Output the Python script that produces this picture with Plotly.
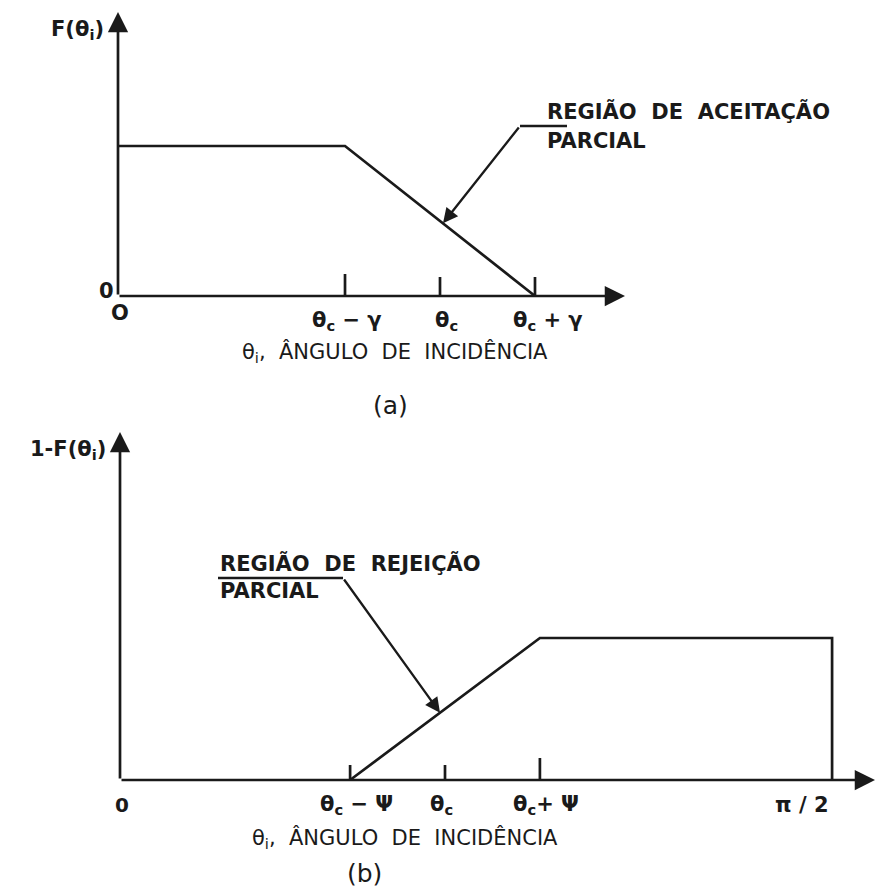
import numpy as np
import plotly.graph_objects as go

# ---------------------------------------------------------------- data --
# Incidence angle expressed in units of the critical angle (θc = 1).
# (a) acceptance function F(θi)
theta_a = [0.0, 0.705, 1.295]            # 0, θc−γ, θc+γ
accept_a = [1.0, 1.0, 0.0]               # F(θi)
ticks_a = [0.705, 1.0, 1.295]
ticklabels_a = ["θ<sub>c</sub> − γ", "θ<sub>c</sub>", "θ<sub>c</sub> + γ"]

# (b) rejection function 1 − F(θi)
theta_b = [0.708, 1.292, 2.191, 2.191]   # θc−Ψ, θc+Ψ, π/2
reject_b = [0.0, 1.0, 1.0, 0.0]          # 1 − F(θi)
ticks_b = [0.708, 1.0, 1.292, 2.191]
ticklabels_b = ["θ<sub>c</sub> − Ψ", "θ<sub>c</sub>", "θ<sub>c</sub>+ Ψ", "π / 2"]

axis_title = "θ<sub>i</sub>,\u00a0\u00a0ÂNGULO\u00a0\u00a0DE\u00a0\u00a0INCIDÊNCIA"
callout_a = ["REGIÃO\u00a0\u00a0DE\u00a0\u00a0ACEITAÇÃO", "PARCIAL"]
callout_b = ["REGIÃO\u00a0\u00a0DE\u00a0\u00a0REJEIÇÃO", "PARCIAL"]

# --------------------------------------------------------------- style --
W, H = 877, 893
INK = "#1a1a1a"
FONT = "DejaVu Sans"
LW = 2.7

# pixel frame of each panel: origin, pixels per unit, vertical band
frames = {
    "a": dict(ox=118, oy=296, sx=322, sy=150, top=0, bottom=425),
    "b": dict(ox=120, oy=780, sx=325, sy=142, top=425, bottom=893),
}


def ranges(f):
    xr = [(0 - f["ox"]) / f["sx"], (W - f["ox"]) / f["sx"]]
    yr = [(f["oy"] - f["bottom"]) / f["sy"], (f["oy"] - f["top"]) / f["sy"]]
    dom = [1 - f["bottom"] / H, 1 - f["top"] / H]
    return xr, yr, dom


def px_x(f, p):
    return (p - f["ox"]) / f["sx"]


def px_y(f, p):
    return (f["oy"] - p) / f["sy"]


fig = go.Figure()
annotations = []
shapes = []


def arrow(xr, yr, x, y, ax, ay, width=LW, size=1.5):
    annotations.append(dict(
        x=x, y=y, ax=ax, ay=ay, xref=xr, yref=yr, axref=xr, ayref=yr,
        text="", showarrow=True, arrowhead=2, arrowsize=size,
        arrowwidth=width, arrowcolor=INK, standoff=0, startstandoff=0))


def label(xr, yr, x, y, text, size=18, xanchor="center", yanchor="middle",
          xshift=0, yshift=0, bold=False):
    annotations.append(dict(
        x=x, y=y, xref=xr, yref=yr, text=f"<b>{text}</b>" if bold else text,
        showarrow=False, xanchor=xanchor, yanchor=yanchor,
        xshift=xshift, yshift=yshift,
        font=dict(family=FONT, size=size, color=INK)))


def panel(key, xr, yr, theta, values, ticks, ticklabels, tick_px, tick_dx,
          label_dy, x_end_px, y_top_px, ylabel, ylabel_py, callout,
          lead_px, tip_px, slope_seg, text_px, title_x_px, title_dy,
          tag, tag_px, tag_dy):
    f = frames[key]
    # the curve
    fig.add_trace(go.Scatter(
        x=theta, y=values, mode="lines", xaxis=xr, yaxis=yr,
        line=dict(color=INK, width=LW), hoverinfo="skip", showlegend=False))
    # axes drawn as arrows from the origin
    arrow(xr, yr, px_x(f, x_end_px), 0, 0, 0)
    arrow(xr, yr, 0, px_y(f, y_top_px), 0, 0)
    # tick marks
    for t, h in zip(ticks, tick_px):
        shapes.append(dict(type="line", xref=xr, yref=yr, x0=t, x1=t, y0=0,
                           y1=h / f["sy"], line=dict(color=INK, width=LW)))
    # tick labels
    for t, txt, dx in zip(ticks, ticklabels, tick_dx):
        label(xr, yr, t, 0, txt, size=21, yshift=label_dy, xshift=dx,
              bold=True)
    # axis title and panel tag
    label(xr, yr, px_x(f, title_x_px), 0, axis_title, size=21,
          yshift=title_dy)
    label(xr, yr, px_x(f, tag_px), 0, tag, size=25, yshift=tag_dy)
    # y label
    label(xr, yr, 0, px_y(f, ylabel_py), ylabel, size=21,
          xanchor="right", xshift=-12, bold=True)
    # callout with leader line; the arrow ends on the sloped segment
    lx0, lx1, ly = lead_px
    fig.add_trace(go.Scatter(
        x=[px_x(f, lx0), px_x(f, lx1)], y=[px_y(f, ly)] * 2, mode="lines",
        xaxis=xr, yaxis=yr, line=dict(color=INK, width=2.3),
        hoverinfo="skip", showlegend=False))
    tx = px_x(f, tip_px)
    i0, i1 = slope_seg
    ty = float(np.interp(tx, theta[i0:i1 + 1], values[i0:i1 + 1]))
    arrow(xr, yr, tx, ty, px_x(f, lx1), px_y(f, ly), width=2.3, size=1.3)
    tx0, ty1, ty2 = text_px
    label(xr, yr, px_x(f, tx0), px_y(f, ty1), callout[0], size=21,
          xanchor="left", bold=True)
    label(xr, yr, px_x(f, tx0), px_y(f, ty2), callout[1], size=21,
          xanchor="left", bold=True)


xa, ya, da = ranges(frames["a"])
xb, yb, db = ranges(frames["b"])

panel("a", "x", "y", theta_a, accept_a, ticks_a, ticklabels_a,
      tick_px=[22, 19, 19], tick_dx=[2, 6, 13], label_dy=-25,
      x_end_px=625, y_top_px=12, ylabel="F(θ<sub>i</sub>)", ylabel_py=30,
      callout=callout_a, lead_px=(567, 520, 126), tip_px=443,
      slope_seg=(1, 2), text_px=(545, 111, 141), title_x_px=395,
      title_dy=-56, tag="(a)", tag_px=390, tag_dy=-109)

panel("b", "x2", "y2", theta_b, reject_b, ticks_b, ticklabels_b,
      tick_px=[15, 15, 22, 0], tick_dx=[6, -4, 6, -30], label_dy=-25,
      x_end_px=875, y_top_px=432, ylabel="1-F(θ<sub>i</sub>)", ylabel_py=450,
      callout=callout_b, lead_px=(218, 343, 578), tip_px=440,
      slope_seg=(0, 1), text_px=(218, 563, 591), title_x_px=405,
      title_dy=-58, tag="(b)", tag_px=364, tag_dy=-93)

# origin labels
label("x", "y", 0, 0, "0", size=21, xanchor="right", xshift=-2, yshift=5,
      bold=True)
label("x", "y", 0, 0, "O", size=21, yshift=-17, xshift=2, bold=True)
label("x2", "y2", 0, 0, "0", size=20, yshift=-25, xshift=2, bold=True)

hidden = dict(visible=False, fixedrange=True)
fig.update_layout(
    width=W, height=H, margin=dict(l=0, r=0, t=0, b=0),
    paper_bgcolor="white", plot_bgcolor="white",
    xaxis=dict(domain=[0, 1], range=xa, anchor="y", **hidden),
    yaxis=dict(domain=da, range=ya, anchor="x", **hidden),
    xaxis2=dict(domain=[0, 1], range=xb, anchor="y2", **hidden),
    yaxis2=dict(domain=db, range=yb, anchor="x2", **hidden),
    annotations=annotations, shapes=shapes, showlegend=False,
)

fig.write_html("out.html")
